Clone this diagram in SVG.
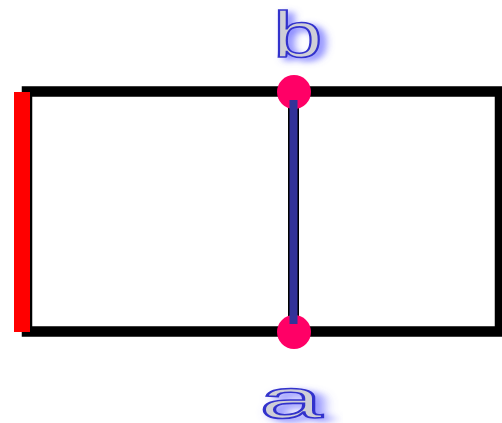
<svg xmlns="http://www.w3.org/2000/svg" width="502" height="423" viewBox="0 0 502 423">
<defs>
<filter id="glow" x="-30%" y="-30%" width="160%" height="160%">
<feGaussianBlur in="SourceAlpha" stdDeviation="3" result="b"/>
<feOffset in="b" dx="4" dy="3" result="o"/>
<feFlood flood-color="#6666ff" flood-opacity="0.8"/>
<feComposite in2="o" operator="in" result="g"/>
<feMerge><feMergeNode in="g"/><feMergeNode in="SourceGraphic"/></feMerge>
</filter>
<style>
.lbl{font-family:"Liberation Sans",Arial,sans-serif;fill:#cfcfd6;stroke:#3333cc;stroke-width:1.6px;filter:url(#glow)}
.pt{fill:#ff0066}
</style>
</defs>
<g id="connectors">
<rect x="27" y="91.5" width="473" height="240" fill="none" stroke="#000" stroke-width="10.5"/>
<rect x="14" y="92" width="16" height="240" fill="#ff0000"/>
<line x1="293.5" y1="100" x2="293.5" y2="324" stroke="#000" stroke-width="11"/>
</g>
<g id="node-b">
<circle class="pt" cx="294" cy="92" r="17"/>
<text class="lbl" transform="translate(273,56.5) scale(1.39,1)" font-size="64">b</text>
</g>
<g id="node-a">
<circle class="pt" cx="294" cy="332" r="17"/>
<text class="lbl" transform="translate(259.6,418.4) scale(2.06,1)" font-size="55">a</text>
</g>
<g id="edge-ab">
<rect x="289.5" y="100" width="8" height="224" fill="#333399"/>
</g>
</svg>
